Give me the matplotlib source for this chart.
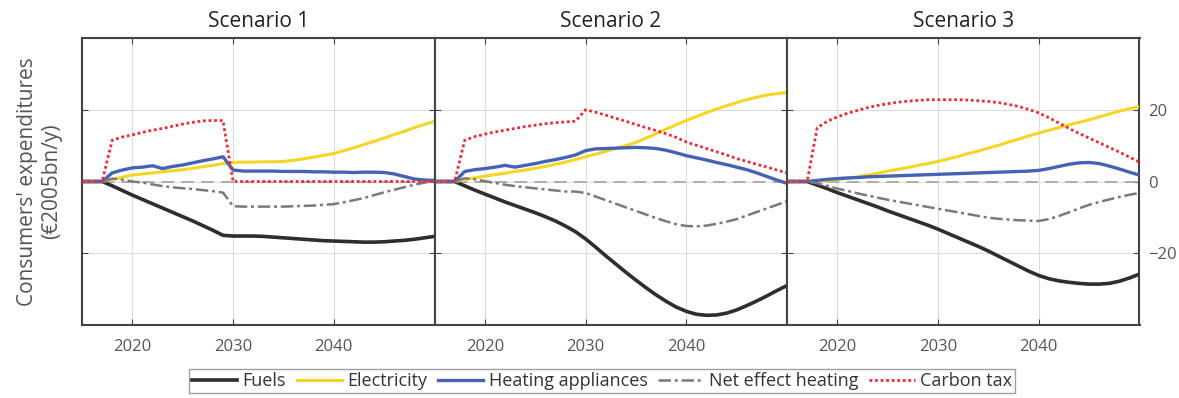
import numpy as np
from matplotlib import pyplot as plt

plt.rcParams['font.family'] = ['Open Sans', 'DejaVu Sans']

years = np.arange(2015, 2051)
scenarios = ["Scenario 1", "Scenario 2", "Scenario 3"]
series_names = ["Fuels", "Electricity", "Heating appliances", "Net effect heating", "Carbon tax"]

# consumers' expenditures per scenario, €2005bn/y, yearly 2015-2050
fuels_1 = [0, 0, 0, -1.2, -2.5, -3.8, -5.0, -6.2, -7.4, -8.6, -9.8, -11.0, -12.3, -13.6, -15.0,
           -15.2, -15.2, -15.2, -15.3, -15.5, -15.7, -15.9, -16.1, -16.3, -16.5, -16.6,
           -16.7, -16.8, -16.9, -16.9, -16.8, -16.6, -16.4, -16.1, -15.7, -15.3]
electricity_1 = [0, 0, 0, 0.6, 1.2, 1.8, 2.1, 2.4, 2.7, 3.0, 3.3, 3.7, 4.1, 4.5, 5.0,
                 5.3, 5.4, 5.4, 5.5, 5.5, 5.6, 5.9, 6.3, 6.8, 7.3, 7.8,
                 8.6, 9.4, 10.3, 11.2, 12.1, 13.1, 14.0, 15.0, 15.9, 16.8]
heating_1 = [0, 0, 0, 2.4, 3.2, 3.8, 4.0, 4.4, 3.6, 4.2, 4.6, 5.2, 5.8, 6.3, 6.9,
             3.2, 2.9, 2.9, 2.9, 2.9, 2.8, 2.8, 2.8, 2.7, 2.7, 2.6,
             2.6, 2.5, 2.6, 2.6, 2.5, 2.1, 1.4, 0.7, 0.4, 0.3]
net_1 = [0, 0, 0, 0.8, 0.5, 0, -0.3, -0.8, -1.3, -1.6, -1.9, -2.1, -2.4, -2.7, -3.1,
         -6.9, -7.0, -7.0, -7.0, -7.0, -7.0, -6.9, -6.8, -6.7, -6.5, -6.3,
         -5.8, -5.2, -4.6, -3.8, -3.0, -2.3, -1.6, -0.9, -0.3, 0.2]
tax_1 = [0, 0, 0, 11.5, 12.4, 13.0, 13.7, 14.3, 14.8, 15.4, 16.0, 16.5, 16.9, 17.0, 17.0,
         0, 0, 0, 0, 0, 0, 0, 0, 0, 0, 0,
         0, 0, 0, 0, 0, 0, 0, 0, 0, 0]

fuels_2 = [0, 0, 0, -1.2, -2.4, -3.5, -4.6, -5.7, -6.7, -7.7, -8.7, -9.8, -11.0, -12.4, -14.0,
           -16.0, -18.3, -20.7, -23.0, -25.3, -27.5, -29.6, -31.6, -33.4, -35.0, -36.2,
           -37.0, -37.3, -37.2, -36.7, -35.8, -34.6, -33.3, -31.9, -30.4, -29.0]
electricity_2 = [0, 0, 0, 0.5, 1.0, 1.5, 1.9, 2.3, 2.8, 3.2, 3.7, 4.2, 4.8, 5.4, 6.1,
                 6.9, 7.6, 8.4, 9.2, 10.0, 10.9, 12.1, 13.3, 14.6, 15.8, 17.0,
                 18.1, 19.2, 20.2, 21.1, 22.0, 22.8, 23.5, 24.1, 24.5, 24.8]
heating_2 = [0, 0, 0, 2.8, 3.3, 3.6, 4.0, 4.5, 4.0, 4.5, 5.0, 5.6, 6.1, 6.7, 7.4,
             8.6, 9.1, 9.2, 9.3, 9.4, 9.5, 9.4, 9.2, 8.7, 8.0, 7.2,
             6.6, 6.0, 5.3, 4.7, 4.0, 3.3, 2.4, 1.4, 0.4, -0.5]
net_2 = [0, 0, 0, 0.9, 0.6, 0.1, -0.4, -0.9, -1.3, -1.6, -1.9, -2.2, -2.5, -2.8, -2.8,
         -3.2, -4.2, -5.2, -6.2, -7.2, -8.2, -9.2, -10.2, -11.1, -11.9, -12.4,
         -12.5, -12.3, -11.8, -11.2, -10.5, -9.5, -8.5, -7.5, -6.5, -5.5]
tax_2 = [0, 0, 0, 11.5, 12.5, 13.2, 13.8, 14.3, 14.8, 15.3, 15.7, 16.1, 16.4, 16.6, 16.8,
         20.0, 19.3, 18.5, 17.6, 16.8, 15.9, 15.0, 14.2, 13.3, 12.3, 11.0,
         10.1, 9.2, 8.3, 7.4, 6.4, 5.6, 4.8, 4.0, 3.2, 2.4]

fuels_3 = [0, 0, 0, -1.0, -2.0, -3.1, -4.1, -5.1, -6.1, -7.1, -8.2, -9.2, -10.2, -11.2, -12.2,
           -13.3, -14.5, -15.7, -16.9, -18.1, -19.4, -20.8, -22.2, -23.6, -25.0, -26.2,
           -27.1, -27.7, -28.1, -28.4, -28.6, -28.6, -28.4, -27.8, -26.9, -25.8]
electricity_3 = [0, 0, 0, 0.1, 0.3, 0.5, 0.9, 1.3, 1.8, 2.3, 2.9, 3.4, 3.9, 4.5, 5.0,
                 5.6, 6.3, 7.0, 7.8, 8.5, 9.3, 10.1, 11.0, 11.8, 12.7, 13.5,
                 14.3, 15.0, 15.8, 16.5, 17.2, 18.0, 18.8, 19.6, 20.3, 20.9]
heating_3 = [0, 0, 0, 0.3, 0.6, 0.8, 1.0, 1.1, 1.3, 1.4, 1.5, 1.6, 1.7, 1.8, 1.9,
             2.0, 2.1, 2.2, 2.3, 2.4, 2.5, 2.6, 2.7, 2.8, 2.9, 3.1,
             3.6, 4.2, 4.8, 5.2, 5.3, 5.0, 4.3, 3.5, 2.6, 1.8]
net_3 = [0, 0, 0, -0.5, -1.2, -2.0, -2.6, -3.3, -3.9, -4.5, -5.1, -5.6, -6.1, -6.6, -7.1,
         -7.6, -8.1, -8.6, -9.1, -9.6, -10.1, -10.4, -10.6, -10.8, -10.9, -11.0,
         -10.5, -9.6, -8.6, -7.5, -6.5, -5.7, -5.0, -4.3, -3.7, -3.2]
tax_3 = [0, 0, 0, 15.0, 16.8, 18.0, 19.0, 19.8, 20.6, 21.2, 21.7, 22.1, 22.4, 22.6, 22.8,
         22.8, 22.8, 22.8, 22.7, 22.5, 22.3, 22.0, 21.5, 20.9, 20.1, 19.1,
         17.8, 16.3, 14.8, 13.4, 12.1, 10.8, 9.5, 8.2, 6.8, 5.4]

data = [
    [fuels_1, electricity_1, heating_1, net_1, tax_1],
    [fuels_2, electricity_2, heating_2, net_2, tax_2],
    [fuels_3, electricity_3, heating_3, net_3, tax_3],
]

styles = [
    dict(color="#2e2e2e", lw=2.6, ls="-"),
    dict(color="#f5d626", lw=2.2, ls="-"),
    dict(color="#4463b5", lw=2.4, ls="-"),
    dict(color="#7a7a7a", lw=1.8, ls=(0, (5, 1.5, 1.2, 1.5))),
    dict(color="#ee2a33", lw=2.0, ls=(0, (1, 1))),
]

fig = plt.figure(figsize=(11.79, 3.98), dpi=100)
left, width, bottom, height = 82 / 1179, 352.5 / 1179, 1 - 325 / 398, 287 / 398
text_color = "#555555"

axes = []
for i, scen in enumerate(scenarios):
    ax = fig.add_axes([left + i * width, bottom, width, height])
    axes.append(ax)
    ax.axhline(0, color="#a8a8a8", lw=1.3, ls=(0, (7, 4)), zorder=1)
    handles = []
    for name, values, st in zip(series_names, data[i], styles):
        h, = ax.plot(years, values, label=name, zorder=3, **st)
        handles.append(h)
    ax.set_xlim(2015, 2050)
    ax.set_ylim(-40, 40)
    ax.set_xticks([2020, 2030, 2040])
    ax.set_yticks([-20, 0, 20])
    ax.grid(True, color="#dcdcdc", lw=0.8)
    ax.set_axisbelow(True)
    ax.tick_params(direction="in", length=4, color="#444444", top=True, bottom=True,
                   left=True, right=True, labelsize=12, labelcolor=text_color, pad=10)
    ax.tick_params(axis="y", labelleft=False, labelright=(i == 2), pad=6)
    for sp in ax.spines.values():
        sp.set_color("#444444")
        sp.set_linewidth(1.5)
    ax.set_title(scen, fontsize=15, color="#222222", pad=8)

axes[0].set_ylabel("Consumers' expenditures\n(€2005bn/y)", fontsize=15,
                   color=text_color, labelpad=14)

leg = fig.legend(handles, series_names, loc="center", bbox_to_anchor=(602 / 1179, 1 - 381 / 398),
                 ncol=5, fontsize=13, frameon=True, fancybox=False, handlelength=2.5,
                 handletextpad=0.3, columnspacing=0.6, borderpad=0.15, borderaxespad=0)
for t in leg.get_texts():
    t.set_color("#333333")
leg.get_frame().set_edgecolor("#888888")
leg.get_frame().set_linewidth(1.0)

fig.savefig("out.png", dpi=100)
